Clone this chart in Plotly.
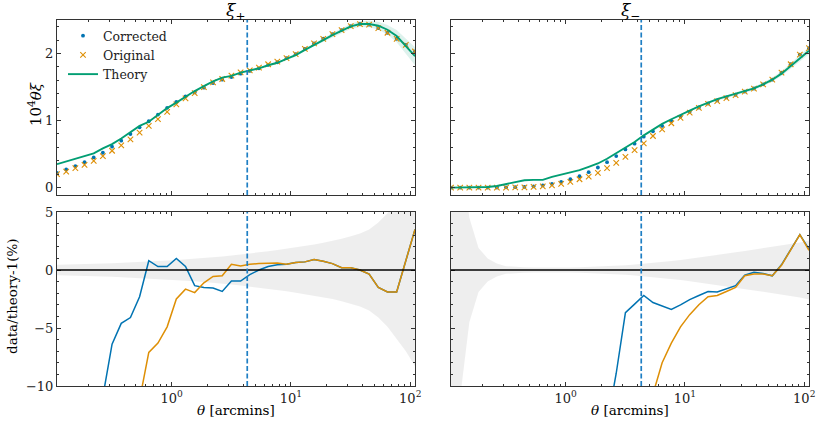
import numpy as np
import plotly.graph_objects as go

# angular bins (arcmin)
theta = [0.1093, 0.1305, 0.1558, 0.1860, 0.2220, 0.2650, 0.3164, 0.3777, 0.4510, 0.5383,
         0.6427, 0.7672, 0.9162, 1.094, 1.306, 1.559, 1.862, 2.223, 2.653, 3.168,
         3.782, 4.515, 5.390, 6.436, 7.684, 9.174, 10.95, 13.08, 15.61, 18.64,
         22.25, 26.57, 31.71, 37.86, 45.21, 53.97, 64.43, 76.91, 91.83, 109.6]
theta_cut = 4.3

# xi_+ (10^4 theta xi)
corr_p = [0.22, 0.27, 0.32, 0.38, 0.45, 0.52, 0.61, 0.70, 0.80, 0.90,
          0.99, 1.09, 1.19, 1.28, 1.36, 1.42, 1.49, 1.56, 1.61, 1.65,
          1.70, 1.74, 1.78, 1.83, 1.87, 1.93, 1.99, 2.07, 2.15, 2.22,
          2.29, 2.35, 2.41, 2.44, 2.43, 2.38, 2.31, 2.22, 2.13, 2.03]
orig_p = [0.20, 0.24, 0.29, 0.34, 0.40, 0.47, 0.55, 0.63, 0.72, 0.82,
          0.92, 1.02, 1.13, 1.24, 1.33, 1.41, 1.50, 1.57, 1.62, 1.67,
          1.72, 1.75, 1.79, 1.84, 1.88, 1.93, 1.99, 2.07, 2.15, 2.22,
          2.29, 2.35, 2.41, 2.44, 2.43, 2.38, 2.31, 2.22, 2.13, 2.03]
theory_p = [0.35, 0.39, 0.43, 0.47, 0.51, 0.585, 0.65, 0.733, 0.834, 0.921,
            0.982, 1.087, 1.186, 1.267, 1.356, 1.44, 1.513, 1.584, 1.64, 1.666,
            1.716, 1.747, 1.78, 1.825, 1.862, 1.92, 1.977, 2.055, 2.133, 2.20,
            2.275, 2.34, 2.405, 2.44, 2.44, 2.415, 2.355, 2.26, 2.11, 1.96]
tband_p = [0.3] * 20 + [0.4, 0.5, 0.6, 0.7, 0.8, 0.9, 1.0, 1.1, 1.2, 1.3,
                        1.4, 1.5, 1.6, 1.8, 2.0, 2.4, 3.0, 4.0, 5.2, 6.8]
ratio_corr_p = [-37, -31, -26, -20, -14, -10.9, -6.4, -4.6, -4.1, -2.3,
                0.8, 0.3, 0.3, 1.0, 0.3, -1.35, -1.5, -1.55, -1.85, -0.95,
                -0.95, -0.4, 0.0, 0.3, 0.45, 0.5, 0.65, 0.7, 0.9, 0.75,
                0.55, 0.2, 0.2, 0.0, -0.35, -1.5, -1.9, -1.9, 0.8, 3.5]
ratio_orig_p = [-45, -39, -34, -29, -24, -20, -16, -14, -12.5, -11.2,
                -7.1, -6.3, -4.9, -2.5, -1.65, -1.95, -1.1, -0.55, -0.5, 0.5,
                0.35, 0.5, 0.55, 0.55, 0.6, 0.5, 0.65, 0.7, 0.9, 0.75,
                0.55, 0.2, 0.2, 0.0, -0.35, -1.5, -1.9, -1.9, 0.8, 3.5]
err_p = [0.45, 0.46, 0.48, 0.5, 0.52, 0.55, 0.58, 0.61, 0.65, 0.69,
         0.73, 0.77, 0.82, 0.87, 0.92, 0.98, 1.04, 1.1, 1.17, 1.25,
         1.33, 1.42, 1.52, 1.62, 1.73, 1.84, 1.96, 2.08, 2.2, 2.35,
         2.5, 2.7, 2.9, 3.15, 3.5, 4.1, 4.9, 5.9, 7.0, 8.3]

# xi_-
corr_m = [0.0, 0.0, 0.0, 0.0, 0.0, 0.002, 0.004, 0.006, 0.01, 0.02,
          0.035, 0.055, 0.085, 0.125, 0.17, 0.23, 0.30, 0.38, 0.47, 0.57,
          0.655, 0.76, 0.84, 0.92, 0.995, 1.06, 1.13, 1.195, 1.255, 1.30,
          1.345, 1.385, 1.432, 1.478, 1.54, 1.61, 1.715, 1.84, 1.985, 2.08]
orig_m = [0.0, 0.0, 0.0, 0.0, 0.0, 0.0, 0.001, 0.003, 0.005, 0.01,
          0.02, 0.035, 0.055, 0.085, 0.125, 0.165, 0.22, 0.29, 0.37, 0.46,
          0.56, 0.66, 0.77, 0.87, 0.96, 1.04, 1.12, 1.19, 1.25, 1.29,
          1.335, 1.38, 1.432, 1.478, 1.54, 1.61, 1.715, 1.84, 1.985, 2.08]
theory_m = [0.0, 0.0, 0.003, 0.005, 0.01, 0.025, 0.055, 0.085, 0.11, 0.115,
            0.115, 0.16, 0.19, 0.225, 0.26, 0.31, 0.36, 0.43, 0.51, 0.60,
            0.68, 0.78, 0.87, 0.95, 1.02, 1.09, 1.15, 1.21, 1.27, 1.32,
            1.36, 1.40, 1.44, 1.48, 1.54, 1.61, 1.70, 1.81, 1.93, 2.04]
ratio_corr_m = [-60, -55, -50, -48, -45, -42, -40, -38, -36, -34,
                -30, -28, -26, -24, -22, -20, -17, -13.3, -8.9, -3.68,
                -2.94, -2.2, -2.8, -3.1, -3.4, -3.0, -2.55, -2.2, -1.85, -1.9,
                -1.65, -1.35, -0.45, -0.2, -0.3, -0.5, 0.45, 1.7, 3.05, 1.8]
ratio_orig_m = [-70, -66, -62, -58, -55, -52, -49, -46, -43, -40,
                -37, -34, -31, -29, -27, -25, -23, -21, -19, -17,
                -16.5, -16, -10.7, -8.0, -6.3, -4.9, -3.85, -3.0, -2.3, -2.2,
                -1.85, -1.5, -0.5, -0.35, -0.35, -0.5, 0.4, 1.7, 3.05, 1.7]
err_m = [30, 11, 4.5, 1.9, 1.0, 0.55, 0.33, 0.26, 0.23, 0.21,
         0.2, 0.2, 0.2, 0.21, 0.23, 0.26, 0.29, 0.33, 0.37, 0.42,
         0.48, 0.54, 0.61, 0.69, 0.78, 0.87, 0.97, 1.07, 1.17, 1.28,
         1.4, 1.52, 1.64, 1.76, 1.88, 2.0, 2.12, 2.24, 2.38, 2.55]

BLUE = "#0173B2"
ORANGE = "#DE8F05"
GREEN = "#029E73"
VLINE = "#1f7fc4"
FONT = "DejaVu Serif"
W, H = 822, 427


def band(x, center, pct, xa, ya, color):
    c = np.array(center, dtype=float)
    p = np.array(pct, dtype=float) / 100.0
    xs = list(x) + list(x)[::-1]
    ys = list(c * (1 + p)) + list(c * (1 - p))[::-1]
    return go.Scatter(x=xs, y=ys, fill="toself", fillcolor=color, mode="lines",
                      line=dict(width=0), hoverinfo="skip", showlegend=False,
                      xaxis=xa, yaxis=ya)


def ratio_band(x, pct, xa, ya):
    p = list(pct)
    xs = list(x) + list(x)[::-1]
    ys = p + [-v for v in p[::-1]]
    return go.Scatter(x=xs, y=ys, fill="toself", fillcolor="rgba(0,0,0,0.065)",
                      mode="lines", line=dict(width=0), hoverinfo="skip",
                      showlegend=False, xaxis=xa, yaxis=ya)


fig = go.Figure()

# top panels: x3/y3 (xi+), x4/y4 (xi-)
for xa, ya, corr, orig, th, tb, leg in [("x3", "y3", corr_p, orig_p, theory_p, tband_p, True),
                                        ("x4", "y4", corr_m, orig_m, theory_m, err_m, False)]:
    fig.add_trace(band(theta, th, tb, xa, ya, "rgba(2,158,115,0.13)"))
    fig.add_trace(go.Scatter(x=theta, y=corr, mode="markers", name="Corrected",
                             marker=dict(symbol="circle", size=3.8, color=BLUE),
                             showlegend=leg, xaxis=xa, yaxis=ya))
    fig.add_trace(go.Scatter(x=theta, y=orig, mode="markers", name="Original",
                             marker=dict(symbol="x-thin", size=5.5, color=ORANGE,
                                         line=dict(color=ORANGE, width=1.1)),
                             showlegend=leg, xaxis=xa, yaxis=ya))
    fig.add_trace(go.Scatter(x=theta, y=th, mode="lines", name="Theory",
                             line=dict(color=GREEN, width=1.9),
                             showlegend=leg, xaxis=xa, yaxis=ya))

# bottom panels: x/y (xi+), x2/y2 (xi-)
for xa, ya, rc, ro, er in [("x", "y", ratio_corr_p, ratio_orig_p, err_p),
                           ("x2", "y2", ratio_corr_m, ratio_orig_m, err_m)]:
    fig.add_trace(ratio_band(theta, er, xa, ya))
    fig.add_trace(go.Scatter(x=theta, y=rc, mode="lines", line=dict(color=BLUE, width=1.5),
                             showlegend=False, xaxis=xa, yaxis=ya))
    fig.add_trace(go.Scatter(x=theta, y=ro, mode="lines", line=dict(color=ORANGE, width=1.5),
                             showlegend=False, xaxis=xa, yaxis=ya))


# domains from pixel boxes
def xd(a, b):
    return [a / W, b / W]


def yd(top, bottom):
    return [1 - bottom / H, 1 - top / H]


minor_x = [0.2, 0.3, 0.4, 0.5, 0.6, 0.7, 0.8, 0.9, 2, 3, 4, 5, 6, 7, 8, 9,
           20, 30, 40, 50, 60, 70, 80, 90]
axcol = "#333333"
common = dict(showline=True, linecolor=axcol, linewidth=1, mirror="allticks",
              ticks="inside", ticklen=4, tickwidth=1, tickcolor=axcol,
              showgrid=False, zeroline=False, automargin=False,
              tickfont=dict(family=FONT, size=13, color="#222"))
xcommon = dict(common, type="log",
               range=[float(np.log10(theta[0])), float(np.log10(theta[-1]))],
               tickvals=[1, 10, 100],
               ticktext=["10<sup>0</sup>", "10<sup>1</sup>", "10<sup>2</sup>"],
               minor=dict(ticks="inside", ticklen=2, tickwidth=1, tickcolor=axcol,
                          tickvals=minor_x, showgrid=False))
ytop = dict(common, range=[-0.11, 2.5], tickvals=[0, 1, 2],
            minor=dict(ticks="inside", ticklen=2, tickwidth=1, tickcolor=axcol,
                       dtick=0.2, tick0=0, showgrid=False))
ybot = dict(common, range=[-10, 5], tickvals=[-10, -5, 0, 5],
            minor=dict(ticks="inside", ticklen=2, tickwidth=1, tickcolor=axcol,
                       dtick=1, tick0=0, showgrid=False))

L = xd(57, 415)
R = xd(451, 809)
T = yd(20, 195)
B = yd(212, 386)

fig.update_layout(
    template="none",
    width=W, height=H,
    margin=dict(l=0, r=0, t=0, b=0, pad=0, autoexpand=False),
    paper_bgcolor="white", plot_bgcolor="white",
    font=dict(family=FONT, size=13, color="#222"),
    xaxis=dict(xcommon, domain=L, anchor="y"),
    yaxis=dict(ybot, domain=B, anchor="x"),
    xaxis2=dict(xcommon, domain=R, anchor="y2"),
    yaxis2=dict(ybot, domain=B, anchor="x2", showticklabels=False),
    xaxis3=dict(xcommon, domain=L, anchor="y3", showticklabels=False),
    yaxis3=dict(ytop, domain=T, anchor="x3"),
    xaxis4=dict(xcommon, domain=R, anchor="y4", showticklabels=False),
    yaxis4=dict(ytop, domain=T, anchor="x4", showticklabels=False),
    legend=dict(x=63 / W, y=1 - 21 / H, xanchor="left", yanchor="top",
                bgcolor="rgba(0,0,0,0)", borderwidth=0,
                font=dict(family=FONT, size=12.5, color="#222")),
    showlegend=True,
)

shapes = []
for xa, ya in [("x", "y"), ("x2", "y2")]:
    shapes.append(dict(type="line", xref=xa + " domain", x0=0, x1=1, yref=ya, y0=0, y1=0,
                       line=dict(color="black", width=1.5), layer="above"))
for xa, ya in [("x", "y"), ("x2", "y2"), ("x3", "y3"), ("x4", "y4")]:
    shapes.append(dict(type="line", xref=xa, x0=theta_cut, x1=theta_cut,
                       yref=ya + " domain", y0=0, y1=1,
                       line=dict(color=VLINE, width=1.7, dash="5px,2.5px"), layer="above"))
fig.update_layout(shapes=shapes)

ann = [
    dict(text="<i>ξ</i><sub>+</sub>", x=236 / W, y=1 - 11 / H, size=17),
    dict(text="<i>ξ</i><sub>−</sub>", x=630 / W, y=1 - 11 / H, size=17),
    dict(text="<i>θ</i> [arcmins]", x=236 / W, y=1 - 410 / H, size=13.5),
    dict(text="<i>θ</i> [arcmins]", x=630 / W, y=1 - 410 / H, size=13.5),
    dict(text="10<sup>4</sup><i>θξ</i>", x=35 / W, y=1 - 104 / H, size=15, textangle=-90),
    dict(text="data/theory-1(%)", x=12 / W, y=1 - 296 / H, size=13.5, textangle=-90),
]
for a in ann:
    sz = a.pop("size")
    a.update(xref="paper", yref="paper", showarrow=False, xanchor="center", yanchor="middle",
             font=dict(family=FONT, size=sz, color="black"))
fig.update_layout(annotations=ann)

fig.write_html("out.html", config={"displayModeBar": False},
               post_script="document.body.style.margin='0';")
